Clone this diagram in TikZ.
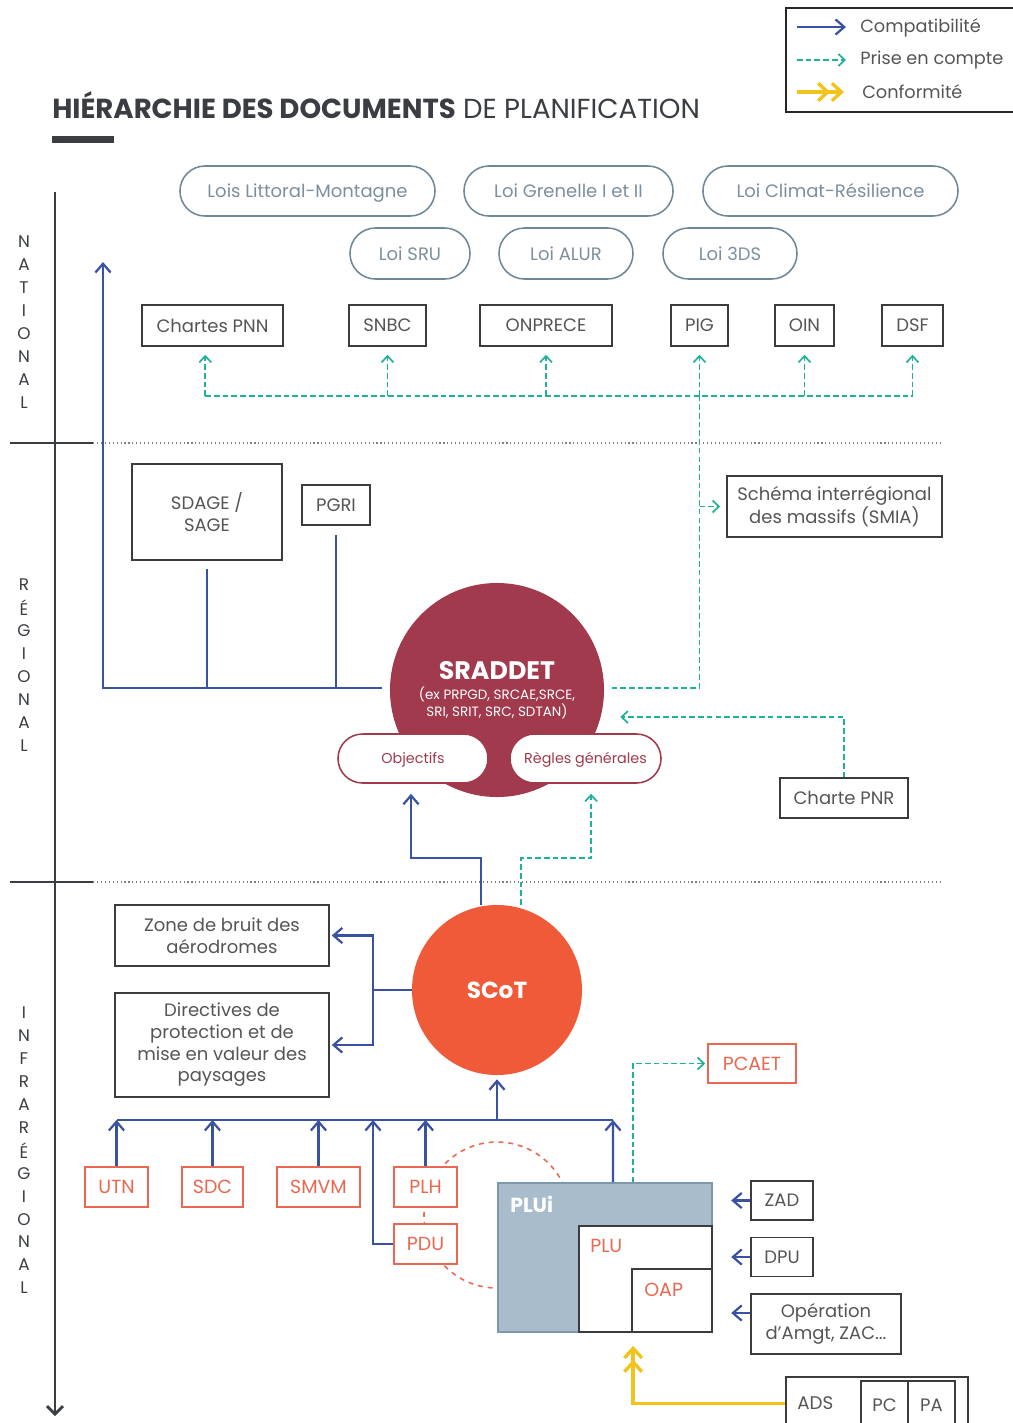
\documentclass[tikz,border=0pt]{standalone}
\usepackage{fontspec}
\setmainfont{Poppins}
\usetikzlibrary{arrows.meta,shapes.misc}
\definecolor{hdblue}{RGB}{58,82,162}
\definecolor{hdteal}{RGB}{32,178,152}
\definecolor{hdyellow}{RGB}{240,196,28}
\definecolor{hdcrimson}{RGB}{161,58,77}
\definecolor{hdorange}{RGB}{239,90,56}
\definecolor{hdsalmon}{RGB}{234,104,80}
\definecolor{hdslate}{RGB}{110,136,152}
\definecolor{hdslatetext}{RGB}{125,143,156}
\definecolor{hdgrey}{RGB}{60,60,60}
\definecolor{hdtext}{RGB}{85,85,85}
\definecolor{hdplui}{RGB}{168,188,204}
\definecolor{hdpluiedge}{RGB}{125,152,172}
\definecolor{hddark}{RGB}{58,62,66}

\begin{document}
\begin{tikzpicture}[
  x=0.025cm, y=-0.025cm,
  lawbox/.style={rounded rectangle, draw=hdslate, line width=1.1pt, minimum height=1.25cm, inner sep=0pt, text height=11.5pt, text depth=2pt, text=hdslatetext, font=\fontsize{12.8}{14}\selectfont},
  box/.style={rectangle, draw=hdgrey, line width=1.1pt, minimum height=1.025cm, inner sep=0pt, text=hdtext, align=center, font=\fontsize{12.8}{15.4}\selectfont},
  redbox/.style={box, draw=hdsalmon, fill=white, text=hdsalmon, font=\fontsize{13.5}{15.4}\selectfont},
  pill/.style={rounded rectangle, draw=hdcrimson, fill=white, line width=1.1pt, minimum height=1.225cm, inner sep=0pt, text height=9pt, text depth=2pt, text=hdcrimson, font=\fontsize{10.2}{12}\selectfont},
  compat/.style={-{Straight Barb[length=2.2mm,width=3.8mm]}, line width=1.6pt, color=hdblue},
  compatline/.style={line width=1.6pt, color=hdblue},
  prise/.style={-{Straight Barb[length=1.6mm,width=3mm]}, line width=1.2pt, color=hdteal, dash pattern=on 4pt off 2.2pt},
  priseline/.style={prise, -},
  conf/.style={-{Straight Barb[length=2.4mm,width=4.4mm] Straight Barb[length=2.4mm,width=4.4mm]}, line width=2.4pt, color=hdyellow},
  lettre/.style={inner sep=0pt, text=hddark, font=\fontsize{12}{12}\selectfont},
  levelsep/.style={dotted, line width=0.8pt, color=gray},
  legtext/.style={anchor=west, inner sep=0pt, text=hdtext, font=\fontsize{12.6}{14}\selectfont}
]
\useasboundingbox (0,0) rectangle (1013,1423);

% Legend
\draw[line width=1.6pt, color=black!85] (786,8) rectangle (1030,112);
\coordinate (lg1a) at (797,27);  \coordinate (lg1b) at (846,27);
\coordinate (lg2a) at (797,60);  \coordinate (lg2b) at (846,60);
\coordinate (lg3a) at (797,92);  \coordinate (lg3b) at (844,92);
\draw[compat] (lg1a) -- (lg1b);
\draw[prise] (lg2a) -- (lg2b);
\draw[conf] (lg3a) -- (lg3b);
\node[legtext] (lgcompat) at (860,28) {Compatibilité};
\node[legtext] (lgprise) at (860,60) {Prise en compte};
\node[legtext] (lgconf) at (862,92) {Conformité};

% Title
\node[anchor=base west, inner sep=0pt, text=hddark, font=\fontsize{19.6}{22}\selectfont] (title) at (52,118) {\textbf{HIÉRARCHIE DES DOCUMENTS} DE PLANIFICATION};
\fill[hddark] (52,136) rectangle (114,143);

% Levels axis
\draw[line width=2pt, hddark, -{Straight Barb[length=2mm,width=4mm]}] (55,192) -- (55,1416);
\draw[line width=2pt, hddark] (10,443) -- (93,443);
\draw[line width=2pt, hddark] (10,882) -- (93,882);
\draw[levelsep] (93,443) -- (943,443);
\draw[levelsep] (93,882) -- (943,882);
\foreach \l [count=\i from 0] in {N,A,T,I,O,N,A,L}
  \node[lettre] (nat\i) at (24,242+22.9*\i) {\l};
\foreach \l [count=\i from 0] in {R,É,G,I,O,N,A,L}
  \node[lettre] (reg\i) at (24,585+22.9*\i) {\l};
\foreach \l [count=\i from 0] in {I,N,F,R,A,R,É,G,I,O,N,A,L}
  \node[lettre] (infra\i) at (24,1013+22.9*\i) {\l};

% Laws
\node[lawbox, minimum width=6.375cm] (littoral) at (307.5,191) {Lois Littoral-Montagne};
\node[lawbox, minimum width=5.225cm] (grenelle) at (568.5,191) {Loi Grenelle I et II};
\node[lawbox, minimum width=6.375cm] (climat) at (830.5,191) {Loi Climat-Résilience};
\node[lawbox, minimum width=3cm, minimum height=1.275cm] (sru) at (410,253.5) {Loi SRU};
\node[lawbox, minimum width=3.35cm, minimum height=1.275cm] (alur) at (566,253.5) {Loi ALUR};
\node[lawbox, minimum width=3.35cm, minimum height=1.275cm] (tds) at (730,253.5) {Loi 3DS};

% National row
\node[box, minimum width=3.525cm] (chartes) at (212.5,325.5) {Chartes PNN};
\node[box, minimum width=1.925cm] (snbc) at (387.5,325.5) {SNBC};
\node[box, minimum width=3.3cm] (onprece) at (546,325.5) {ONPRECE};
\node[box, minimum width=1.425cm] (pig) at (699.5,325.5) {PIG};
\node[box, minimum width=1.475cm] (oin) at (804.5,325.5) {OIN};
\node[box, minimum width=1.525cm] (dsf) at (912.5,325.5) {DSF};

% Regional
\node[box, minimum width=3.75cm, minimum height=2.4cm] (sdage) at (207,512) {SDAGE /\\SAGE};
\node[box, minimum width=1.7cm, minimum height=1cm] (pgri) at (336,505) {PGRI};
\node[box, minimum width=5.375cm, minimum height=1.525cm] (smia) at (834.5,506.5) {Schéma interrégional\\des massifs (SMIA)};
\node[circle, fill=hdcrimson, minimum size=5.35cm, inner sep=0pt, text=white, align=center, font=\fontsize{9.6}{11.5}\selectfont] (sraddet) at (497,690) {{\fontsize{18}{20}\selectfont\bfseries SRADDET}\\[3pt](ex PRPGD, SRCAE,SRCE,\\SRI, SRIT, SRC, SDTAN)};
\node[pill, minimum width=3.75cm] (objectifs) at (413,758.5) {Objectifs};
\node[pill, minimum width=3.775cm] (regles) at (585.5,758.5) {Règles générales};
\node[box, minimum width=3.2cm, minimum height=1cm] (pnr) at (844,798) {Charte PNR};

% Infra-regional
\node[circle, fill=hdorange, minimum size=4.25cm, inner sep=0pt, text=white, font=\fontsize{16.5}{19}\selectfont\bfseries] (scot) at (497,990) {SCoT};
\node[box, minimum width=5.35cm, minimum height=1.525cm] (bruit) at (222,935.5) {Zone de bruit des\\aérodromes};
\node[box, minimum width=5.35cm, minimum height=2.6cm] (directives) at (222,1045) {Directives de\\protection et de\\mise en valeur des\\paysages};

\draw[hdsalmon, line width=1.1pt, dash pattern=on 3.5pt off 3.5pt] (497,1215) circle[radius=1.825cm];
\node[redbox, minimum width=1.575cm, minimum height=1cm] (utn) at (116.5,1187) {UTN};
\node[redbox, minimum width=1.525cm, minimum height=1cm] (sdc) at (212.5,1187) {SDC};
\node[redbox, minimum width=2.075cm, minimum height=1cm] (smvm) at (318.5,1187) {SMVM};
\node[redbox, minimum width=1.575cm, minimum height=1cm] (plh) at (425.5,1187) {PLH};
\node[redbox, minimum width=1.575cm, minimum height=1cm] (pdu) at (425.5,1244) {PDU};
\node[redbox, minimum width=2.2cm, minimum height=0.975cm] (pcaet) at (752,1063.5) {PCAET};

\node[rectangle, fill=hdplui, draw=hdpluiedge, line width=1.2pt, minimum width=5.35cm, minimum height=3.725cm, inner sep=0pt] (plui) at (605,1257.5) {};
\node[anchor=west, inner sep=0pt, text=white, font=\fontsize{14.5}{16}\selectfont\bfseries] (pluitxt) at (510,1204) {PLUi};
\node[rectangle, fill=white, draw=hdgrey, line width=1.2pt, minimum width=3.325cm, minimum height=2.65cm, inner sep=0pt] (plu) at (645.5,1279) {};
\node[anchor=west, inner sep=0pt, text=hdsalmon, font=\fontsize{13.5}{15}\selectfont] (plutxt) at (590,1246) {PLU};
\node[rectangle, fill=white, draw=hdgrey, line width=1.2pt, minimum width=2cm, minimum height=1.575cm, inner sep=0pt] (oap) at (672,1300.5) {};
\node[anchor=west, inner sep=0pt, text=hdsalmon, font=\fontsize{13.5}{15}\selectfont] (oaptxt) at (644,1290) {OAP};

\node[box, minimum width=1.55cm, minimum height=0.975cm] (zad) at (782,1200.5) {ZAD};
\node[box, minimum width=1.55cm, minimum height=0.975cm] (dpu) at (782,1257) {DPU};
\node[box, minimum width=3.75cm, minimum height=1.5cm] (oper) at (826,1324) {Opération\\d’Amgt, ZAC...};
\node[box, minimum width=4.55cm, minimum height=1.325cm] (ads) at (877,1403.5) {};
\node[anchor=west, inner sep=0pt, text=hdtext, font=\fontsize{13}{15}\selectfont] (adstxt) at (797,1403) {ADS};
\node[box, minimum width=1.175cm, minimum height=1.225cm] (pc) at (884.5,1405.5) {PC};
\node[box, minimum width=1.175cm, minimum height=1.225cm] (pa) at (931.5,1405.5) {PA};

% Compatibilite
\coordinate (natup) at (103,262);
\draw[compat] ([xshift=-0.18cm,yshift=0.05cm]sraddet.west) -| (natup);
\draw[compatline] ([yshift=-0.2cm]sdage.south) -- ([yshift=0.05cm]sdage.south |- sraddet.west);
\draw[compatline] ([yshift=-0.225cm]pgri.south) -- ([yshift=0.05cm]pgri.south |- sraddet.west);

\coordinate (scotmid) at (0,858);
\coordinate (objin) at ([xshift=-0.05cm,yshift=-0.25cm]objectifs.south);
\draw[compat] ([xshift=-0.4cm]scot.north) |- (scotmid -| objin) -- (objin);

\coordinate (scotfork) at (373,990);
\draw[compatline] (scot.west) -- (scotfork);
\draw[compat] (scotfork) |- ([xshift=0.05cm]bruit.east);
\draw[compat] (scotfork) |- ([xshift=0.05cm]directives.east);

\coordinate (busL) at (117,1120);
\coordinate (busR) at (613,1120);
\draw[compatline] (busL) -- (busR);
\draw[compat] (scot.south |- busL) -- ([yshift=-0.1cm]scot.south);
\foreach \n in {utn,sdc,smvm,plh}
  \draw[compat] (\n.north) -- (\n.north |- busL);
\draw[compat] (pdu.west) -| (scotfork |- busL);
\draw[compat] ([xshift=0.2cm]plui.north) -- (busR);

\draw[compat] (zad.west) -- ++(-19,0);
\draw[compat] (dpu.west) -- ++(-19,0);
\draw[compat] ([yshift=0.275cm]oper.west) -- ++(-19,0);

% Prise en compte
\coordinate (natbus) at (0,396);
\draw[priseline] ([xshift=0.18cm,yshift=0.05cm]sraddet.east) -| (pig.south |- natbus);
\draw[priseline] ([xshift=-0.18cm]chartes.south |- natbus) -- (dsf.south |- natbus);
\draw[prise] ([xshift=-0.18cm]chartes.south |- natbus) -- ([xshift=-0.18cm,yshift=-0.2cm]chartes.south);
\foreach \n in {snbc,onprece,pig,oin,dsf}
  \draw[prise] (\n.south |- natbus) -- ([yshift=-0.2cm]\n.south);
\draw[prise] (pig.south |- smia.west) -- ([xshift=-0.15cm]smia.west);
\draw[prise] (pnr.north) |- ([xshift=0.4cm,yshift=-0.675cm]sraddet.east);
\coordinate (reglesin) at ([xshift=0.14cm,yshift=-0.25cm]regles.south);
\draw[prise] ([xshift=0.6cm]scot.north) |- (scotmid -| reglesin) -- (reglesin);
\draw[prise] ([xshift=0.7cm]plui.north) |- ([xshift=-0.05cm]pcaet.west);

% Conformite
\draw[conf] (ads.west) -| ([xshift=0.05cm,yshift=-0.325cm]oap.south west);

\end{tikzpicture}
\end{document}
